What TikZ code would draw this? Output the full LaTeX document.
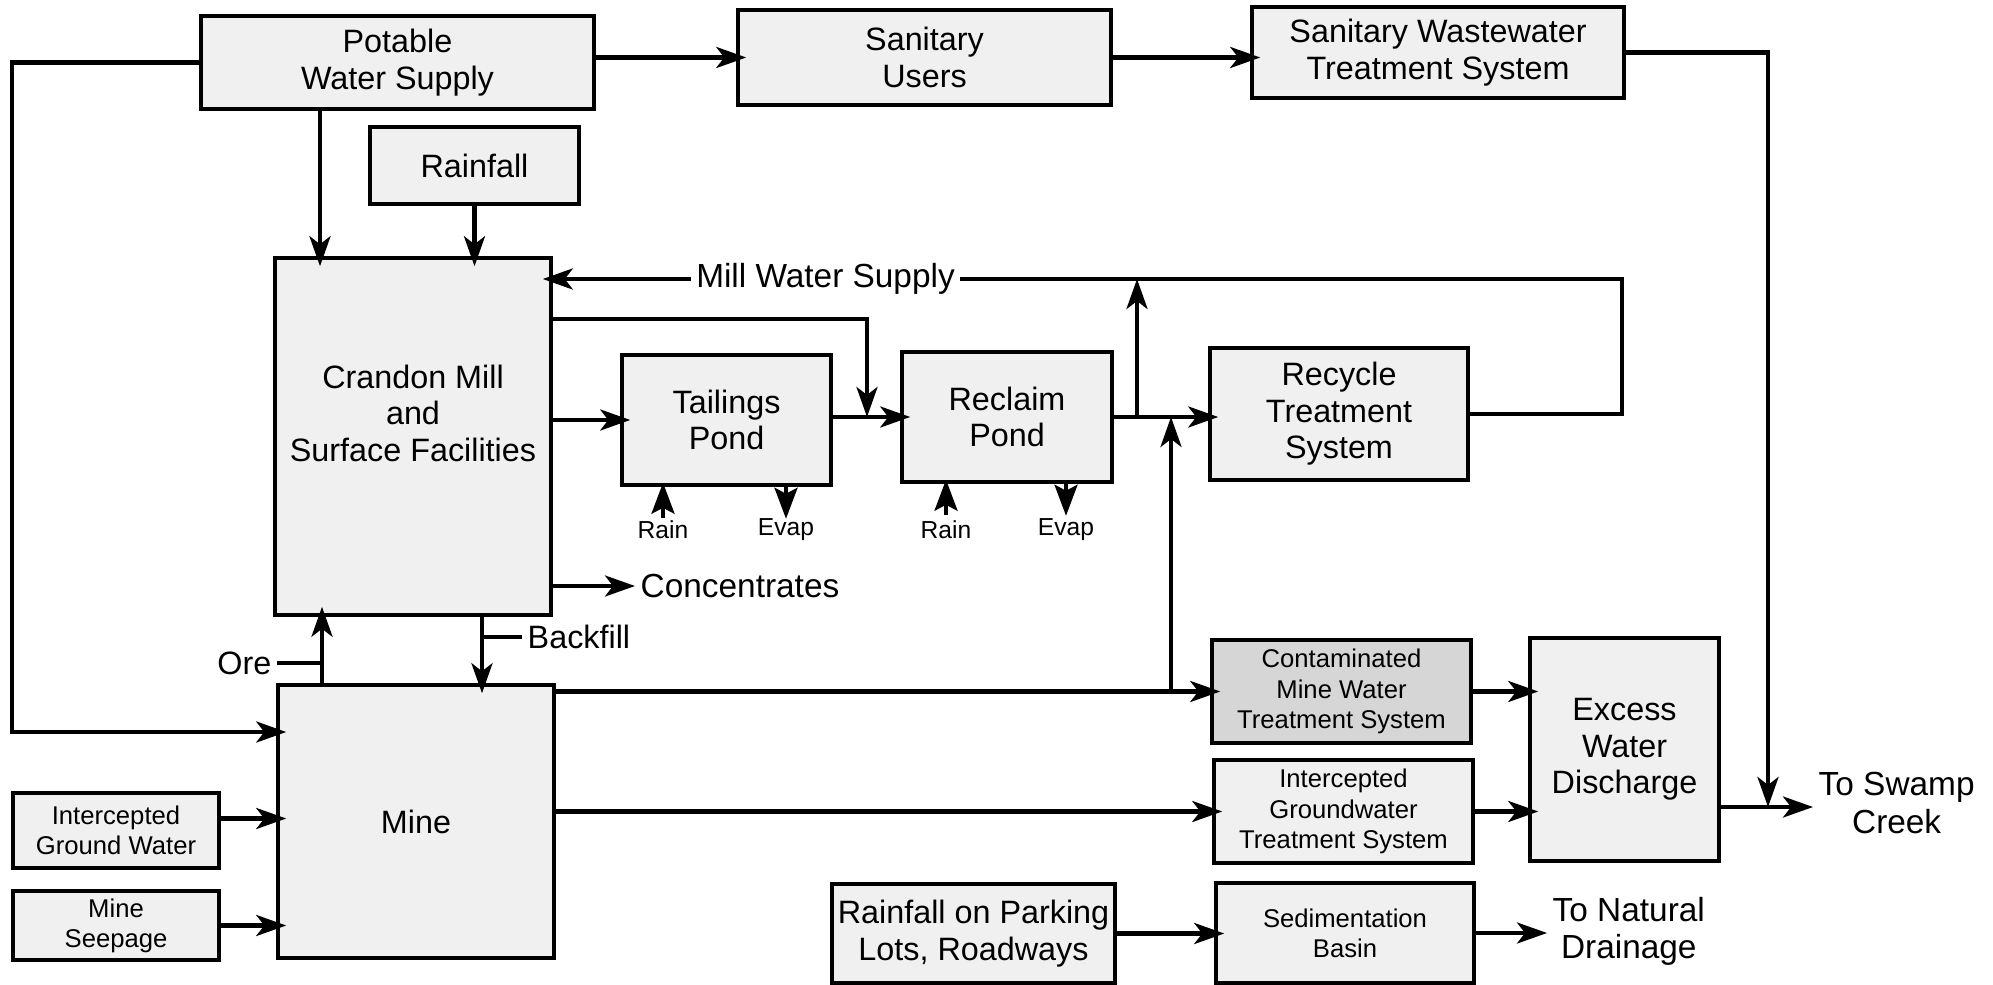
\documentclass[tikz,border=0pt]{standalone}
\usepackage{fontspec}
\setmainfont{Liberation Sans}
\usetikzlibrary{arrows.meta}
\newcommand{\blkfont}{\fontsize{9.2}{10.4}\selectfont}
\newcommand{\blksmall}{\fontsize{7.3}{8.6}\selectfont}
\newcommand{\flowfont}{\fontsize{9.5}{10.6}\selectfont}
\newcommand{\pondfont}{\fontsize{7}{8}\selectfont}

\begin{document}
\begin{tikzpicture}[
  blk/.style={draw, line width=1pt, fill=gray!12, align=center, inner sep=1pt, font=\blkfont},
  sblk/.style={blk, font=\blksmall},
  flow/.style={line width=1.2pt, -{Stealth[length=3mm,width=2.1mm,inset=0.8mm]}, shorten >=-1mm},
  flowj/.style={flow, shorten >=0pt},
  pondflow/.style={line width=1pt, -{Stealth[length=3.1mm,width=2.3mm,inset=0.6mm]}},
  pipe/.style={line width=1.2pt},
  tick/.style={line width=0.9pt},
  lbl/.style={inner sep=0.5mm, font=\flowfont, align=center}
]
\useasboundingbox (0,0) rectangle (19.93,-9.85);

% --- BOXES ---
 % supply side
  \node[blk, minimum width=3.93cm, minimum height=0.93cm] (pws) at (3.975,-0.625) {Potable\\Water Supply};
  \node[blk, minimum width=3.73cm, minimum height=0.95cm] (sanu) at (9.245,-0.575) {Sanitary\\Users};
  \node[blk, minimum width=3.72cm, minimum height=0.91cm] (sww) at (14.38,-0.525) {Sanitary Wastewater\\Treatment System};
  \node[blk, minimum width=2.09cm, minimum height=0.77cm] (rain) at (4.745,-1.655) {Rainfall};

 % mill and ponds
  \node[blk, minimum width=2.76cm, minimum height=3.57cm] (mill) at (4.13,-4.365) {};
  \node[font=\blkfont, align=center] (milltxt) at (4.13,-4.13) {Crandon Mill\\and\\Surface Facilities};
  \node[blk, minimum width=2.09cm, minimum height=1.30cm] (tail) at (7.265,-4.20) {Tailings\\Pond};
  \node[blk, minimum width=2.10cm, minimum height=1.30cm] (recl) at (10.07,-4.17) {Reclaim\\Pond};
  \node[blk, minimum width=2.58cm, minimum height=1.32cm] (recy) at (13.39,-4.14) {Recycle\\Treatment\\System};

 % mine
  \node[blk, minimum width=2.76cm, minimum height=2.73cm] (mine) at (4.16,-8.215) {Mine};
  \node[sblk, minimum width=2.06cm, minimum height=0.75cm] (igw) at (1.16,-8.305) {Intercepted\\Ground Water};
  \node[sblk, minimum width=2.06cm, minimum height=0.69cm] (seep) at (1.16,-9.255) {Mine\\Seepage};

 % treatment and discharge
  \node[sblk, fill=gray!32, minimum width=2.59cm, minimum height=1.03cm] (cmw) at (13.415,-6.915) {Contaminated\\Mine Water\\Treatment System};
  \node[sblk, minimum width=2.59cm, minimum height=1.03cm] (igwt) at (13.435,-8.115) {Intercepted\\Groundwater\\Treatment System};
  \node[blk, minimum width=1.89cm, minimum height=2.23cm] (exc) at (16.245,-7.495) {Excess\\Water\\Discharge};
  \node[blk, minimum width=2.83cm, minimum height=0.99cm] (park) at (9.735,-9.335) {Rainfall on Parking\\Lots, Roadways};
  \node[sblk, minimum width=2.58cm, minimum height=1.00cm] (sed) at (13.45,-9.33) {Sedimentation\\Basin};

% --- LABELS ---
  \node[lbl] (mws) at (8.255,-2.79) {Mill Water Supply};
  \node[lbl, anchor=west] (conc) at (6.35,-5.86) {Concentrates};
  \node[lbl, anchor=west] (swamp) at (18.13,-8.03) {To Swamp\\Creek};
  \node[lbl, anchor=west] (drain) at (15.47,-9.31) {To Natural\\Drainage};
  \node[lbl, anchor=west, font=\blkfont] (bfill) at (5.22,-6.37) {Backfill};
  \node[lbl, anchor=east, font=\blkfont] (ore) at (2.77,-6.63) {Ore};
  \node[inner sep=0.5mm, font=\pondfont] (r1) at (6.63,-5.30) {Rain};
  \node[inner sep=0.5mm, font=\pondfont] (e1) at (7.86,-5.30) {Evap};
  \node[inner sep=0.5mm, font=\pondfont] (r2) at (9.46,-5.30) {Rain};
  \node[inner sep=0.5mm, font=\pondfont] (e2) at (10.66,-5.30) {Evap};

  % junctions
  \coordinate (jleft) at (0.12,-7.32);
  \coordinate (jtail) at (8.67,-4.17);
  \coordinate (jrise) at (11.37,-4.17);
  \coordinate (jcmw) at (11.71,-6.915);
  \coordinate (jloop) at (16.22,-2.79);
  \coordinate (jswamp) at (17.68,-8.07);
  \coordinate (jore) at (3.22,-6.63);
  \coordinate (jfill) at (4.82,-6.37);

% --- FLOWS ---
 % potable and sanitary
  \draw[flow] (pws.east |- sanu.west) -- (sanu.west);
  \draw[flow] (sanu.east) -- (sanu.east -| sww.west);
  \draw[flowj] (sww.east) -| (jswamp);
  \draw[flow] ([xshift=-7.75mm]pws.south) -- ([xshift=-7.75mm]pws.south |- mill.north);
  \draw[flow] (rain.south) -- (rain.south |- mill.north);
  \draw[flow] (pws.west) -| (jleft) -- (jleft -| mine.west);

 % mill water circuit
  \draw[flow] (mill.east |- tail.west) -- (tail.west);
  \draw[flowj] ([yshift=11.75mm]mill.east) -| (jtail);
  \draw[flow] (tail.east |- recl.west) -- (recl.west);
  \draw[flow] (recl.east) -- (recl.east -| recy.west);
  \draw[pipe] (recy.east) -| (jloop) -- (mws.east);
  \draw[flow] (mws.west) -- (mws.west -| mill.east);
  \draw[flowj] (jrise) -- (jrise |- mws.center);
  \draw[flowj] (jcmw) -- (jcmw |- recl.east);
  \draw[flowj] (mill.east |- conc.west) -- (conc.west);

 % rain and evaporation on ponds
  \foreach \p/\r/\e in {tail/r1/e1, recl/r2/e2} {
    \draw[pondflow, shorten >=-0.4mm] (\p.south -| \r) ++(0,-0.31) -- (\p.south -| \r);
    \draw[pondflow] (\p.south -| \e) -- ++(0,-0.32);
  }

 % mine
  \draw[flow] (mine.north -| jore) -- (mill.south -| jore);
  \draw[tick] (ore.east) -- (jore);
  \draw[flow] (mill.south -| jfill) -- (mine.north -| jfill);
  \draw[tick] (jfill) -- (bfill.west);
  \draw[flow] (mine.east |- cmw.west) -- (cmw.west);
  \draw[flow] (mine.east |- igwt.west) -- (igwt.west);
  \draw[flow] ([yshift=1.2mm]igw.east) -- ([yshift=1.2mm]igw.east -| mine.west);
  \draw[flow] (seep.east) -- (seep.east -| mine.west);

 % discharge
  \draw[flow] (cmw.east) -- (cmw.east -| exc.west);
  \draw[flow] (igwt.east) -- (igwt.east -| exc.west);
  \draw[flowj] (exc.east |- jswamp) -- (jswamp -| swamp.west);
  \draw[flow] (park.east) -- (park.east -| sed.west);
  \draw[flowj] (sed.east) -- (sed.east -| drain.west);
\end{tikzpicture}
\end{document}
